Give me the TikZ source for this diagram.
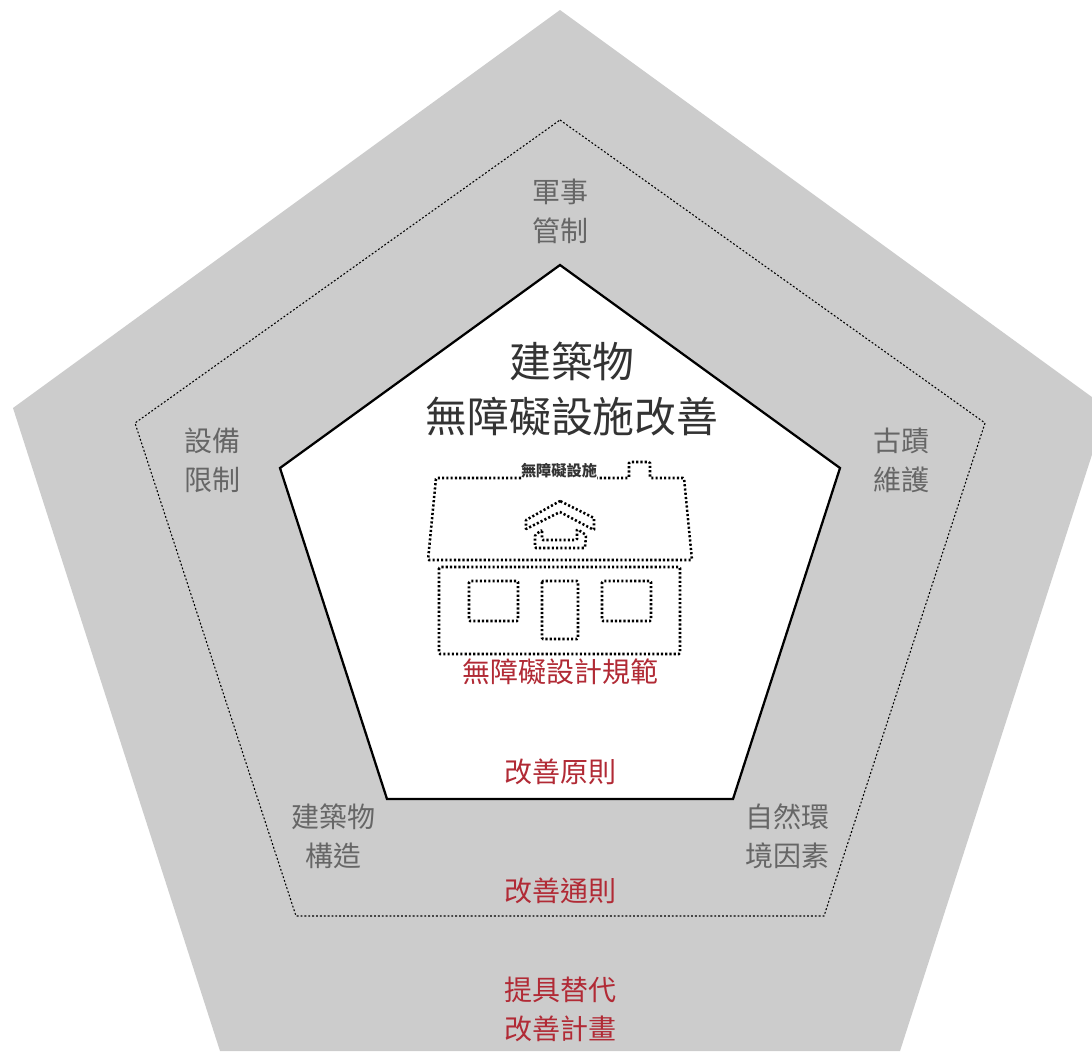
\documentclass[tikz,border=0pt]{standalone}
\usepackage{fontspec}
\newfontfamily\cjk{Noto Sans CJK TC}
\definecolor{bandgray}{HTML}{CCCCCC}
\definecolor{labelgray}{HTML}{666666}
\definecolor{titledark}{HTML}{333333}
\definecolor{labelred}{HTML}{B12A35}
\tikzset{
  px/.style={x=0.75pt,y=-0.75pt},
  outerband/.style={fill=bandgray,draw=none},
  dotline/.style={draw=black,line width=0.8pt,dash pattern=on 1.4pt off 1.5pt},
  innerpent/.style={fill=white,draw=black,line width=1.7pt,line join=miter},
  housedots/.style={draw=black,line width=1.9pt,dash pattern=on 1.6pt off 1.6pt,rounded corners=0.8pt},
  label/.style={inner sep=0pt,align=center,font=\cjk\fontsize{21}{29.25}\selectfont},
  graylabel/.style={label,text=labelgray},
  redlabel/.style={label,text=labelred},
  titlelabel/.style={inner sep=0pt,align=center,text=titledark,font=\cjk\fontsize{31.4}{41.6}\selectfont},
  smalllabel/.style={inner sep=0pt,text=titledark,font=\cjk\bfseries\fontsize{11.4}{12}\selectfont}
}
\begin{document}
\begin{tikzpicture}[px]
\useasboundingbox (0,0) rectangle (1092,1051);
\clip (0,0) rectangle (1092,1051);
\fill[white] (0,0) rectangle (1092,1051);
\path[outerband] (560,10) -- (1107,408) -- (900,1051) -- (220,1051) -- (13,408) -- cycle;
\path[dotline] (560,120) -- (985,423) -- (824,916) -- (296,916) -- (135,423) -- cycle;
\path[innerpent] (560,265) -- (840,468) -- (733,799) -- (387,799) -- (280,468) -- cycle;
% house
\path[housedots] (521,478) -- (436,478) -- (428,560) -- (692,560) -- (684,478) -- (650,478) -- (650,462) -- (629,462) -- (629,478) -- (597,478);
\path[housedots] (439,567) rectangle (680,654);
\path[housedots] (469,581) rectangle (518,621);
\path[housedots] (542,581) rectangle (578,639);
\path[housedots] (602,581) rectangle (651,621);
\path[housedots,rounded corners=0.4pt] (560,501) -- (594,518) -- (594,530) -- (560,512) -- (526,529) -- (526,520) -- cycle;
\path[housedots] (542,530) -- (542,540) -- (577,540) -- (577,529) -- (586,535) -- (585,548) -- (535,548) -- (535,535) -- cycle;
% labels
\node[graylabel] (mil) at (560,211.5) {軍事\\管制};
\node[graylabel] (her) at (901,460.5) {古蹟\\維護};
\node[graylabel] (equ) at (212,460.5) {設備\\限制};
\node[graylabel] (str) at (333,836.5) {建築物\\構造};
\node[graylabel] (nat) at (787,836.5) {自然環\\境因素};
\node[titlelabel] (title) at (572,388.75) {建築物\\無障礙設施改善};
\node[smalllabel] (small) at (559,471) {無障礙設施};
\node[redlabel] (code) at (560,672) {無障礙設計規範};
\node[redlabel] (prin) at (560,772) {改善原則};
\node[redlabel] (gen) at (560,890.5) {改善通則};
\node[redlabel] (alt) at (560,1009.5) {提具替代\\改善計畫};
\end{tikzpicture}
\end{document}
